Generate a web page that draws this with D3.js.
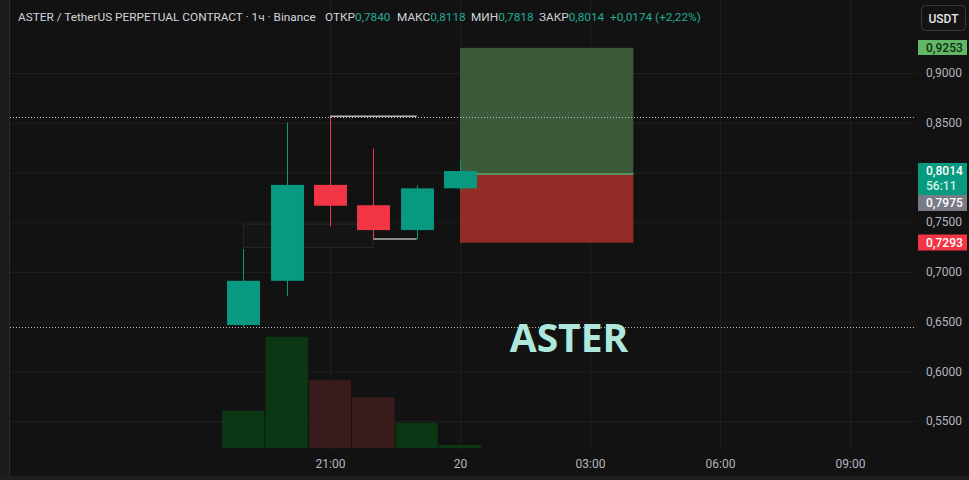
<!DOCTYPE html>
<html><head><meta charset="utf-8">
<script src="https://cdn.jsdelivr.net/npm/d3@7"></script>
<style>
body{margin:0;background:#121212;overflow:hidden}
svg{display:block;font-family:Roboto,"Noto Sans",sans-serif}
</style>
</head><body>
<svg id="c" width="969" height="480"></svg>
<script>
// ---- data ----
const candleHours = [19, 20, 21, 22, 23, 24];   // hours from 2025-09-19 00:00
const opens  = [0.6465, 0.6910, 0.7875, 0.7670, 0.7420, 0.7840];
const highs  = [0.7230, 0.8500, 0.8565, 0.8240, 0.7870, 0.8118];
const lows   = [0.6445, 0.6760, 0.7455, 0.7330, 0.7330, 0.7818];
const closes = [0.6910, 0.7875, 0.7665, 0.7420, 0.7840, 0.8014];
const volumes = [11.2, 33.2, 20.3, 15.2, 7.6, 1.0];
const priceTicks = [0.90, 0.85, 0.80, 0.75, 0.70, 0.65, 0.60, 0.55];
const priceLabelsHidden = [0.80];
const timeTickHours = [21, 24, 27, 30, 33];
const positionHours = [24, 28];
const positionTarget = 0.9253, positionEntry = 0.7975, positionStop = 0.7293;
const dottedLevels = [0.8555, 0.6445];
const highLine = [21, 23, 0.8565];
const lowLine = [22, 23, 0.7330];
const boxHours = [19, 22], boxPrices = [0.7480, 0.7245];
const countdown = "56:11";
const symbolTitle = "ASTER / TetherUS PERPETUAL CONTRACT · 1ч · Binance";
const watermark = "ASTER";
const currency = "USDT";

// ---- setup ----
const svg = d3.select("#c");
const W = 969, H = 480;
const plotL = 10, plotR = 916, volBase = 448.3;
const hr = h => new Date(2025, 8, 19, 0).getTime() + h * 3600e3;
const x = d3.scaleTime().domain([hr(19), hr(33)]).range([243.33, 850]);
const y = d3.scaleLinear().domain([0.9, 0.55]).range([73, 421]);
const yV = d3.scaleLinear().domain([0, 40]).range([volBase, volBase - 134.4]);
const step = x(hr(20)) - x(hr(19));
const fmt = v => d3.format(".4f")(v).replace(".", ",");

const GREEN = "#089981", RED = "#f23645";

svg.append("rect").attr("width", W).attr("height", H).attr("fill", "#121212");

// grid
const gy = svg.append("g").attr("transform", `translate(${plotR},0)`)
  .call(d3.axisLeft(y).tickValues(priceTicks).tickSize(plotR - plotL).tickFormat(""));
gy.select(".domain").remove();
gy.selectAll("line").attr("stroke", "#1f1f1f");

const gx = svg.append("g").attr("transform", `translate(0,${volBase})`)
  .call(d3.axisTop(x).tickValues(timeTickHours.map(hr)).tickSize(volBase).tickFormat(""));
gx.select(".domain").remove();
gx.selectAll("line").attr("stroke", "#1f1f1f");

// volume
svg.append("g").selectAll("rect").data(volumes).join("rect")
  .attr("x", (d, i) => x(hr(candleHours[i])) - step / 2 + 0.5)
  .attr("width", step - 1)
  .attr("y", d => yV(d))
  .attr("height", d => volBase - yV(d))
  .attr("fill", (d, i) => closes[i] >= opens[i] ? "#0b3715" : "#3a1b1b");

// faint box
svg.append("rect")
  .attr("x", x(hr(boxHours[0]))).attr("width", x(hr(boxHours[1])) - x(hr(boxHours[0])))
  .attr("y", y(boxPrices[0])).attr("height", y(boxPrices[1]) - y(boxPrices[0]))
  .attr("fill", "#151515").attr("stroke", "#262626");

// position tool
const px0 = x(hr(positionHours[0])), px1 = x(hr(positionHours[1]));
svg.append("rect").attr("x", px0).attr("width", px1 - px0)
  .attr("y", y(positionTarget)).attr("height", y(positionEntry) - y(positionTarget))
  .attr("fill", "#3a5a3a");
svg.append("rect").attr("x", px0).attr("width", px1 - px0)
  .attr("y", y(positionEntry)).attr("height", y(positionStop) - y(positionEntry))
  .attr("fill", "#922c27");
svg.append("line").attr("x1", px0).attr("x2", px1)
  .attr("y1", y(positionEntry) - 1).attr("y2", y(positionEntry) - 1)
  .attr("stroke", "#5f8f5f").attr("stroke-width", 2);

// dotted levels
svg.append("g").selectAll("line").data(dottedLevels).join("line")
  .attr("x1", plotL).attr("x2", plotR)
  .attr("y1", d => Math.round(y(d)) + 0.5).attr("y2", d => Math.round(y(d)) + 0.5)
  .attr("stroke", "#bdbdbd").attr("stroke-dasharray", "1,2");

// watermark
svg.append("text").attr("x", 569).attr("y", 351.5).attr("text-anchor", "middle")
  .attr("font-size", 39).attr("font-weight", "bold").attr("fill", "#aee8dd")
  .attr("font-family", "'Open Sans',Roboto,sans-serif")
  .text(watermark);

// candles
const cg = svg.append("g");
candleHours.forEach((h, i) => {
  const cx = Math.round(x(hr(h))) + 0.5;
  const col = closes[i] >= opens[i] ? GREEN : RED;
  cg.append("line").attr("x1", cx).attr("x2", cx)
    .attr("y1", y(highs[i])).attr("y2", y(lows[i])).attr("stroke", col);
  const bw = step * 0.76;
  cg.append("rect").attr("x", cx - bw / 2).attr("width", bw)
    .attr("y", y(Math.max(opens[i], closes[i])))
    .attr("height", Math.max(1, Math.abs(y(opens[i]) - y(closes[i]))))
    .attr("fill", col);
});

// high / low lines
svg.append("line").attr("x1", x(hr(highLine[0]))).attr("x2", x(hr(highLine[1])))
  .attr("y1", y(highLine[2])).attr("y2", y(highLine[2])).attr("stroke", "#b8b8b8").attr("stroke-width", 1.5);
svg.append("line").attr("x1", x(hr(lowLine[0]))).attr("x2", x(hr(lowLine[1])))
  .attr("y1", y(lowLine[2])).attr("y2", y(lowLine[2])).attr("stroke", "#8a8a8a").attr("stroke-width", 2);

// price axis labels
const ya = svg.append("g").attr("transform", `translate(${plotR + 10},0)`)
  .call(d3.axisRight(y).tickValues(priceTicks.filter(v => !priceLabelsHidden.includes(v)))
    .tickSize(0).tickFormat(fmt));
ya.select(".domain").remove();
ya.selectAll("text").attr("fill", "#b2b5be").attr("font-size", 12)
  .attr("font-family", "Roboto,sans-serif").attr("x", 0);

// time axis labels
const xa = svg.append("g").attr("transform", `translate(0,${volBase + 8})`)
  .call(d3.axisBottom(x).tickValues(timeTickHours.map(hr)).tickSize(0)
    .tickFormat(d => { const dt = new Date(d); return dt.getHours() === 0 ? String(dt.getDate()) : d3.timeFormat("%H:%M")(dt); }));
xa.select(".domain").remove();
xa.selectAll("text").attr("fill", "#b2b5be").attr("font-size", 12).attr("font-family", "Roboto,sans-serif");

// price tags
function tag(y0, h, fill, lines, tcol) {
  svg.append("rect").attr("x", 918).attr("y", y0).attr("width", 49).attr("height", h).attr("fill", fill);
  lines.forEach((t, k) => {
    svg.append("text").attr("x", 926).attr("y", y0 + 12 + k * 15)
      .attr("font-size", 12).attr("font-weight", 500).attr("fill", tcol[k]).text(t);
  });
}
tag(Math.round(y(positionTarget)) - 8, 15, "#62b766", [fmt(positionTarget)], ["#10300f"]);
tag(Math.round(y(closes[5])) - 8, 32, GREEN, [fmt(closes[5]), countdown], ["#ffffff", "#d4f2ea"]);
tag(195, 16, "#787b86", [fmt(positionEntry)], ["#ffffff"]);
tag(Math.round(y(positionStop)) - 8.5, 16, "#f23645", [fmt(positionStop)], ["#ffffff"]);

// currency button
svg.append("rect").attr("x", 921.5).attr("y", 5.5).attr("width", 44).attr("height", 25).attr("rx", 4)
  .attr("fill", "#131313").attr("stroke", "#3a3a3a");
svg.append("text").attr("x", 943.5).attr("y", 22.5).attr("text-anchor", "middle")
  .attr("font-size", 12).attr("font-weight", 500).attr("fill", "#e6e6e6").text(currency);

// header legend: group labels at fixed x, values flow right after their label
const lab = "#d1d4dc", val = "#22ab94";
const ch = closes[5] - opens[5];
const segs = [
  [symbolTitle, 18, lab], ["ОТКР", 325, lab], [fmt(opens[5]), null, val],
  ["МАКС", 397, lab], [fmt(highs[5]), null, val], ["МИН", 471, lab], [fmt(lows[5]), null, val],
  ["ЗАКР", 539, lab], [fmt(closes[5]), null, val],
  [(ch >= 0 ? "+" : "") + fmt(ch) + " (" + (ch >= 0 ? "+" : "") + d3.format(".2f")(ch / opens[5] * 100).replace(".", ",") + "%)", 610, val]
];
const ht = svg.append("text").attr("y", 20.5).attr("font-size", 11.8);
segs.forEach(s => {
  const t = ht.append("tspan").attr("fill", s[2]).text(s[0]);
  if (s[1] !== null) t.attr("x", s[1]);
});

// frame
svg.append("rect").attr("x", 0).attr("y", 0).attr("width", 9).attr("height", H).attr("fill", "#1c1c1c");
svg.append("line").attr("x1", 9.5).attr("x2", 9.5).attr("y1", 0).attr("y2", H).attr("stroke", "#2a2a2a");
svg.append("rect").attr("x", 0).attr("y", 476).attr("width", W).attr("height", 4).attr("fill", "#1e1e1e");
</script>
</body></html>
